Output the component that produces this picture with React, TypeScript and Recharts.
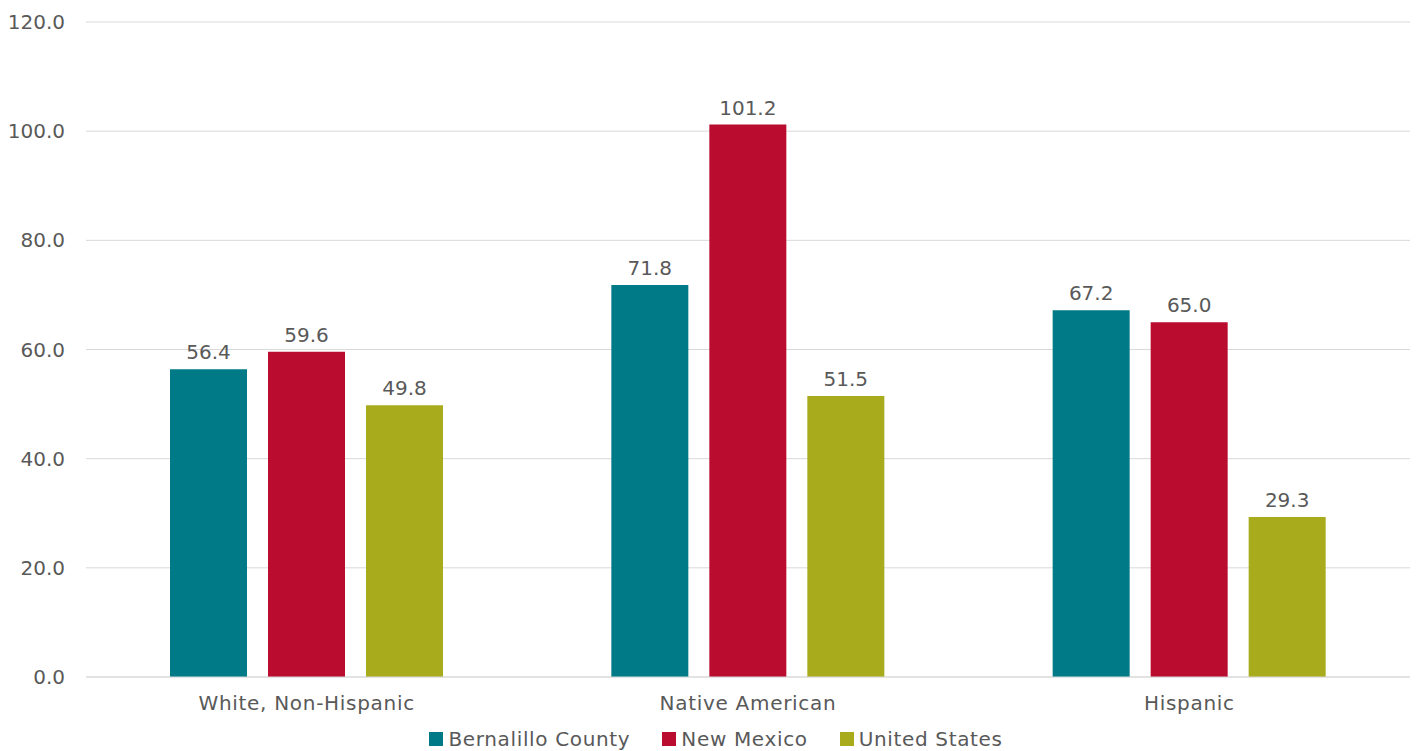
import React from "react";
import { BarChart, Bar, XAxis, YAxis, CartesianGrid, LabelList } from "recharts";

const categories = ["White, Non-Hispanic", "Native American", "Hispanic"];
const bernalillo = [56.4, 71.8, 67.2];
const newMexico = [59.6, 101.2, 65.0];
const unitedStates = [49.8, 51.5, 29.3];
const yTicks = [0, 20, 40, 60, 80, 100, 120];

const seriesDefs = [
  { key: "bernalillo", name: "Bernalillo County", color: "#007A87" },
  { key: "newMexico", name: "New Mexico", color: "#BA0C2F" },
  { key: "unitedStates", name: "United States", color: "#A8AB1C" },
];

const data = categories.map((c, i) => ({
  category: c,
  bernalillo: bernalillo[i],
  newMexico: newMexico[i],
  unitedStates: unitedStates[i],
}));

const FONT = "'DejaVu Sans', sans-serif";
const TEXT = "#595959";

const LegendBlock = () => (
  <div
    style={{
      position: "absolute",
      top: 727,
      left: 8,
      width: 1416,
      height: 24,
      display: "flex",
      justifyContent: "center",
      alignItems: "center",
      fontFamily: FONT,
      fontSize: 20,
      letterSpacing: "0.65px",
      color: TEXT,
      lineHeight: "24px",
    }}
  >
    {seriesDefs.map((s) => (
      <div key={s.key} style={{ display: "flex", alignItems: "center", margin: "0 16px" }}>
        <span style={{ display: "inline-block", width: 14, height: 14, background: s.color, marginRight: 5 }} />
        <span>{s.name}</span>
      </div>
    ))}
  </div>
);

export default function App() {
  return (
    <div style={{ position: "absolute", left: 0, top: 0, width: 1416, height: 751, background: "#fff", overflow: "hidden" }}>
      <BarChart
        width={1416}
        height={751}
        data={data}
        margin={{ top: 22, right: 6, bottom: 34, left: 0 }}
        barSize={77}
        barGap={21}
      >
        <CartesianGrid vertical={false} stroke="#d9d9d9" />
        <XAxis
          dataKey="category"
          axisLine={{ stroke: "#d9d9d9" }}
          tickLine={false}
          tickMargin={13}
          height={40}
          tick={{ fill: TEXT, fontSize: 20, fontFamily: FONT, letterSpacing: "0.7px" }}
        />
        <YAxis
          domain={[0, 120]}
          ticks={yTicks}
          width={86}
          axisLine={false}
          tickLine={false}
          tickMargin={15}
          tickFormatter={(v: number) => v.toFixed(1)}
          tick={{ fill: TEXT, fontSize: 20, fontFamily: FONT }}
        />
        {seriesDefs.map((s) => (
          <Bar key={s.key} dataKey={s.key} name={s.name} fill={s.color} isAnimationActive={false}>
            <LabelList
              dataKey={s.key}
              position="top"
              offset={10}
              formatter={(v: number) => v.toFixed(1)}
              style={{ fill: TEXT, fontSize: 20, fontFamily: FONT }}
            />
          </Bar>
        ))}
      </BarChart>
      <LegendBlock />
    </div>
  );
}
